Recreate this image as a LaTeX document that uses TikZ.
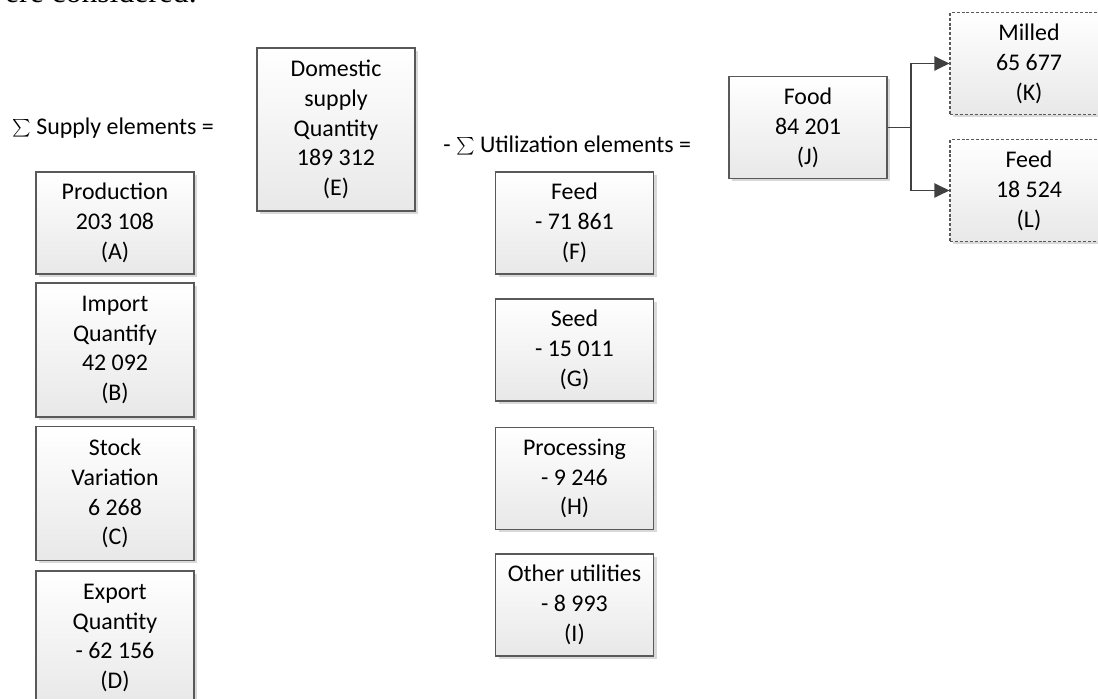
\documentclass[tikz,border=0pt]{standalone}
\usepackage{fontspec}
\setmainfont{Carlito}
\newfontfamily\serifdoc{Liberation Serif}
\usetikzlibrary{arrows.meta,shadows}

\newcommand{\boxfont}{\fontsize{13.6}{17}\selectfont}

\begin{document}
\begin{tikzpicture}[
    box/.style={rectangle, draw=black!65, line width=0.6pt, top color=white, bottom color=black!9, minimum width=3.16cm, minimum height=2.04cm, align=center, font=\boxfont, drop shadow={shadow xshift=0.06cm, shadow yshift=-0.06cm, fill=black!15, opacity=1}},
    tallbox/.style={box, minimum height=2.68cm},
    optbox/.style={box, dash pattern=on 1.7pt off 1.1pt},
    label/.style={anchor=base west, font=\boxfont, inner sep=0pt},
    arrow/.style={-{Triangle[length=0.3cm, width=0.28cm]}, draw=black!75, line width=1.1pt}
]

% Frame of the page
\useasboundingbox (0,0) rectangle (21.96,-13.98);
\clip (0,0) rectangle (21.96,-13.98);

% Text line of the page above the figure
\node[font=\serifdoc\fontsize{18}{22}\selectfont, anchor=base east, inner sep=0pt] (doctext) at (3.94,-0.06) {were considered.};

% Supply elements (left)
\node[label] (supply) at (0.24,-2.70) {$\sum$ Supply elements =};

\node[box] (A) at (2.30,-4.46) {Production\\203 108\\(A)};
\node[tallbox] (B) at (2.30,-7.00) {Import\\Quantify\\42 092\\(B)};
\node[tallbox] (C) at (2.30,-9.87) {Stock\\Variation\\6 268\\(C)};
\node[tallbox] (D) at (2.30,-12.76) {Export\\Quantity\\- 62 156\\(D)};

% Domestic supply
\node[box, minimum height=3.26cm] (E) at (6.72,-2.59) {Domestic\\supply\\Quantity\\189 312\\(E)};

% Utilization elements (middle)
\node[label] (util) at (8.86,-3.06) {- $\sum$ Utilization elements =};

\node[box] (F) at (11.49,-4.46) {Feed\\- 71 861\\(F)};
\node[box] (G) at (11.49,-7.00) {Seed\\- 15 011\\(G)};
\node[box] (H) at (11.49,-9.57) {Processing\\- 9 246\\(H)};
\node[box] (I) at (11.49,-12.10) {Other utilities\\- 8 993\\(I)};

% Food and its split (right)
\node[box] (J) at (16.16,-2.55) {Food\\84 201\\(J)};
\node[optbox] (K) at (20.58,-1.27) {Milled\\65 677\\(K)};
\node[optbox] (L) at (20.58,-3.81) {Feed\\18 524\\(L)};

\draw[arrow] (J.east) -- ++(0.46,0) |- (K);
\draw[arrow] (J.east) -- ++(0.46,0) |- (L);

\end{tikzpicture}
\end{document}
